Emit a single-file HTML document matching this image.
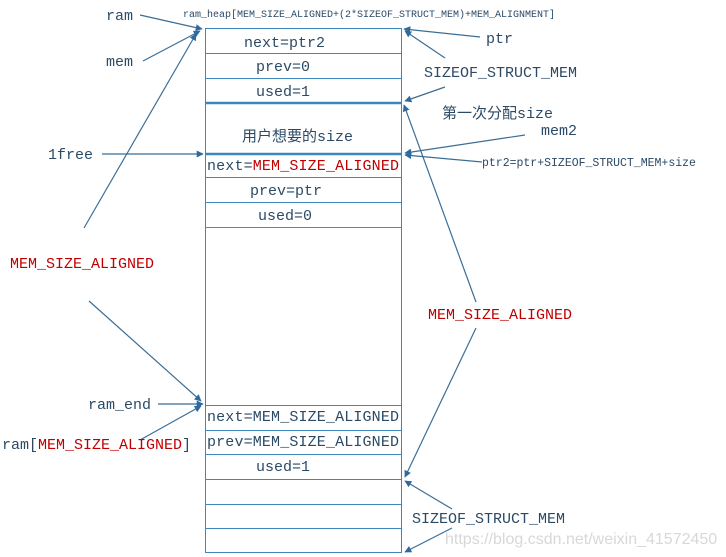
<!DOCTYPE html>
<html><head><meta charset="utf-8"><style>
html,body{margin:0;padding:0;background:#fff;}
svg{display:block;}
text{font-family:"Liberation Mono","Noto Sans CJK SC",monospace;font-size:15px;fill:#2b4a66;}
.r{fill:#c00000;}
</style></head><body>
<svg width="726" height="557" viewBox="0 0 726 557" xmlns="http://www.w3.org/2000/svg">
<defs>
<marker id="a" viewBox="0 0 10 10" refX="9" refY="5" markerWidth="7" markerHeight="7" orient="auto" markerUnits="userSpaceOnUse">
<path d="M0,0 L10,5 L0,10 z" fill="#2e6a9e"/></marker>
</defs>
<g stroke="#3d87bf" stroke-width="1" fill="none">
<rect x="205.5" y="28.5" width="196" height="524"/>
<line x1="205" y1="53.5" x2="402" y2="53.5"/>
<line x1="205" y1="78.5" x2="402" y2="78.5"/>
<line x1="205" y1="103" x2="402" y2="103" stroke-width="2.5"/>
<line x1="205" y1="154" x2="402" y2="154" stroke-width="2.5"/>
<line x1="205" y1="177.5" x2="402" y2="177.5"/>
<line x1="205" y1="202.5" x2="402" y2="202.5"/>
<line x1="205" y1="227.5" x2="402" y2="227.5" stroke="#3aa856"/>
<line x1="205" y1="405.5" x2="402" y2="405.5"/>
<line x1="205" y1="430.5" x2="402" y2="430.5"/>
<line x1="205" y1="454.5" x2="402" y2="454.5"/>
<line x1="205" y1="479.5" x2="402" y2="479.5"/>
<line x1="205" y1="504.5" x2="402" y2="504.5"/>
<line x1="205" y1="528.5" x2="402" y2="528.5"/>
</g>
<g stroke="#3b6e96" stroke-width="1.2" fill="none" marker-end="url(#a)">
<line x1="140" y1="15" x2="202" y2="29"/>
<line x1="143" y1="61" x2="200" y2="31"/>
<line x1="84" y1="228" x2="196" y2="34"/>
<line x1="102" y1="154" x2="203" y2="154"/>
<line x1="480" y1="37" x2="404" y2="29"/>
<line x1="445" y1="58" x2="405" y2="31"/>
<line x1="445" y1="87" x2="405" y2="101"/>
<line x1="525" y1="135" x2="405" y2="153"/>
<line x1="482" y1="162" x2="405" y2="155"/>
<line x1="476" y1="302" x2="404" y2="105"/>
<line x1="476" y1="328" x2="405" y2="477"/>
<line x1="89" y1="301" x2="201" y2="401"/>
<line x1="158" y1="404" x2="203" y2="404"/>
<line x1="140" y1="440" x2="201" y2="406"/>
<line x1="452" y1="509" x2="405" y2="481"/>
<line x1="452" y1="528" x2="405" y2="552"/>
</g>
<text x="106" y="20">ram</text>
<text x="106" y="66">mem</text>
<text x="183" y="17" style="font-size:10px">ram_heap[MEM_SIZE_ALIGNED+(2*SIZEOF_STRUCT_MEM)+MEM_ALIGNMENT]</text>
<text x="486" y="43">ptr</text>
<text x="424" y="77">SIZEOF_STRUCT_MEM</text>
<text x="442" y="118">第一次分配size</text>
<text x="541" y="135">mem2</text>
<text x="482" y="166" style="font-size:11.5px">ptr2=ptr+SIZEOF_STRUCT_MEM+size</text>
<text x="48" y="159">1free</text>
<text x="10" y="268" class="r">MEM_SIZE_ALIGNED</text>
<text x="428" y="319" class="r">MEM_SIZE_ALIGNED</text>
<text x="88" y="409">ram_end</text>
<text x="2" y="449">ram[<tspan class="r">MEM_SIZE_ALIGNED</tspan>]</text>
<text x="412" y="523">SIZEOF_STRUCT_MEM</text>
<text x="445" y="544" style="font-family:'Liberation Sans',sans-serif;font-size:16px;fill:#d8d8d8">https://blog.csdn.net/weixin_41572450</text>
<text x="244" y="47">next=ptr2</text>
<text x="256" y="71">prev=0</text>
<text x="256" y="96">used=1</text>
<text x="242" y="141">用户想要的size</text>
<text x="207" y="170" textLength="192">next=<tspan class="r">MEM_SIZE_ALIGNED</tspan></text>
<text x="250" y="195">prev=ptr</text>
<text x="258" y="220">used=0</text>
<text x="207" y="421" textLength="192">next=MEM_SIZE_ALIGNED</text>
<text x="207" y="446" textLength="192">prev=MEM_SIZE_ALIGNED</text>
<text x="256" y="471">used=1</text>
</svg>
</body></html>
